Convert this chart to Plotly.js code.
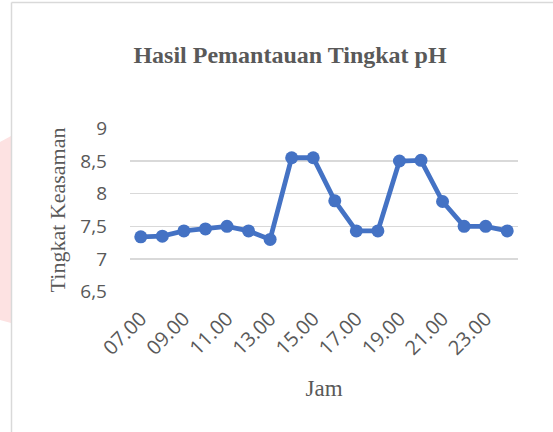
<!DOCTYPE html>
<html>
<head>
<meta charset="utf-8">
<script src="https://cdn.plot.ly/plotly-3.0.1.min.js"></script>
<style>html,body{margin:0;padding:0;background:#fff;}#chart{width:553px;height:432px;}</style>
</head>
<body>
<div id="chart"></div>
<script>
const hours = ["07.00","08.00","09.00","10.00","11.00","12.00","13.00","14.00","15.00","16.00","17.00","18.00","19.00","20.00","21.00","22.00","23.00","24.00"];
const phValues = [7.34,7.35,7.43,7.46,7.50,7.43,7.30,8.55,8.55,7.89,7.43,7.43,8.50,8.51,7.88,7.50,7.50,7.43];
const chartTitle = "Hasil Pemantauan Tingkat pH";
const xTitle = "Jam";
const yTitle = "Tingkat Keasaman";

const L = 130, R = 35, T = 128, B = 140, W = 553, H = 432;
const pw = W - L - R, ph = H - T - B;
const px = v => (v - L) / pw;
const py = v => (H - B - v) / ph;

const trace = {
  x: hours, y: phValues, type: "scatter", mode: "lines+markers",
  line: {color: "#4472C4", width: 4.8},
  marker: {color: "#4472C4", size: 13},
  cliponaxis: false, hoverinfo: "skip"
};

const layout = {
  width: W, height: H,
  margin: {l: L, r: R, t: T, b: B, pad: 0, autoexpand: false},
  paper_bgcolor: "#ffffff", plot_bgcolor: "#ffffff",
  separators: ",.",
  showlegend: false,
  title: {
    text: "<b>" + chartTitle + "</b>",
    font: {family: "Liberation Serif, serif", size: 24, color: "#595959"},
    xref: "container", yref: "container", x: 290 / W, xanchor: "center",
    y: 1 - 55 / H, yanchor: "middle"
  },
  xaxis: {
    type: "category", automargin: false,
    range: [-0.5, hours.length - 0.5],
    tickmode: "linear", tick0: 0, dtick: 2,
    tickangle: -45,
    tickfont: {family: "Open Sans, sans-serif", size: 20, color: "#595959"},
    showgrid: false, zeroline: false, showline: false,
    ticks: "", ticklabelstandoff: 10,
    title: {text: xTitle, font: {family: "Liberation Serif, serif", size: 23, color: "#595959"}, standoff: 20},
    fixedrange: true
  },
  yaxis: {
    range: [6.495, 9.005], automargin: false,
    tickmode: "linear", tick0: 6.5, dtick: 0.5,
    tickfont: {family: "Open Sans, sans-serif", size: 19, color: "#595959"},
    showgrid: true, gridcolor: "#d9d9d9", gridwidth: 1.3,
    zeroline: false, showline: false, ticks: "", ticklabelstandoff: 22,
    title: {text: yTitle, font: {family: "Liberation Serif, serif", size: 22, color: "#595959"}, standoff: 8},
    fixedrange: true
  },
  shapes: [
    {type: "path", xref: "paper", yref: "paper",
     path: `M ${px(0)} ${py(142)} L ${px(11)} ${py(136)} L ${px(11)} ${py(323)} L ${px(0)} ${py(320)} Z`,
     fillcolor: "#fde2e2", line: {width: 0}, layer: "below"},
    {type: "line", xref: "paper", yref: "paper", x0: px(11.5), x1: px(11.5), y0: py(2.5), y1: py(433),
     line: {color: "#d9d9d9", width: 1.5}},
    {type: "line", xref: "paper", yref: "paper", x0: px(11.5), x1: px(554), y0: py(2.5), y1: py(2.5),
     line: {color: "#d9d9d9", width: 1.5}}
  ]
};

Plotly.newPlot("chart", [trace], layout, {displayModeBar: false, staticPlot: true});
</script>
</body>
</html>
